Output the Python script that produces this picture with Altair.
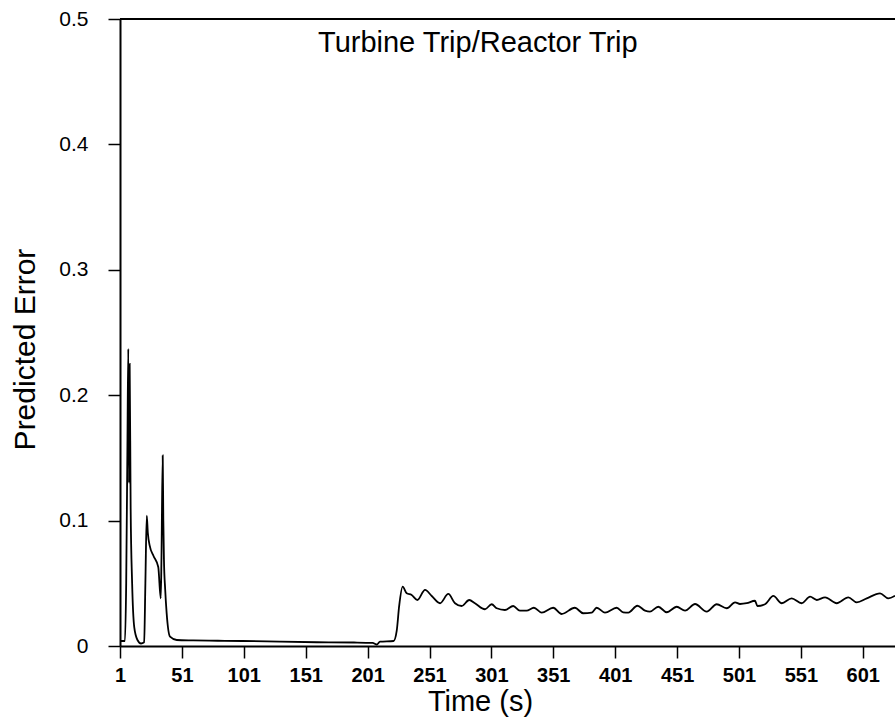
import altair as alt
import pandas as pd

# Time (s) and predicted error
time_s = [
    1, 3, 5, 6, 7, 7.7, 8.3, 8.8, 9.6, 10.8, 12.5, 15, 18, 20.5,
    21.5, 22.6, 23.5, 25, 28, 31.9, 33.9, 34.5, 35.5, 36, 36.5, 37.5, 38.7, 41.4, 46.8,
    60, 80, 100, 130, 160, 190, 205, 208.6, 211, 222, 224.5, 226.5,
    229.3, 232.6, 236.6, 241.2, 247.4, 252.8, 259.5, 266.2, 271.6, 277.0, 283.1,
    287.7, 295.8, 301.2, 305.3, 311.9, 318.6, 324.0, 329.4, 335.3, 341.6, 350.9,
    357.7, 368.4, 375.1, 382.0, 386.0, 392.7, 402.2, 407.5, 411.6, 418.9, 425.1,
    429.1, 435.8, 442.6, 450.7, 457.4, 465.5, 474.9, 483.0, 491.1, 497.8, 501.8,
    507.2, 513.9, 515.8, 522.0, 528.7, 535.5, 543.5, 551.6, 558.4, 563.8, 570.5,
    579.9, 589.3, 596.1, 604.2, 614.9, 621.6, 627.0,
]
pred_error = [
    0.004, 0.004, 0.004, 0.05, 0.16, 0.237, 0.13, 0.225, 0.11, 0.05, 0.015, 0.005, 0.002, 0.003,
    0.05, 0.104, 0.09, 0.08, 0.072, 0.063, 0.038, 0.07, 0.152, 0.1, 0.069, 0.045, 0.026, 0.0074, 0.0048,
    0.0045, 0.0042, 0.004, 0.0035, 0.003, 0.0028, 0.0025, 0.0012, 0.0035, 0.004, 0.012, 0.032,
    0.0473, 0.042, 0.0407, 0.0367, 0.0447, 0.0399, 0.0341, 0.0415, 0.0341, 0.0319, 0.0367,
    0.0341, 0.0293, 0.0333, 0.0301, 0.0287, 0.0319, 0.0282, 0.0282, 0.0305, 0.0266, 0.0305,
    0.0255, 0.0305, 0.0261, 0.0266, 0.0305, 0.0266, 0.0305, 0.0269, 0.0266, 0.0321, 0.0282,
    0.0274, 0.0313, 0.0269, 0.0313, 0.0282, 0.0335, 0.0274, 0.0333, 0.0301, 0.0348, 0.0335,
    0.0341, 0.0361, 0.0319, 0.0333, 0.0399, 0.0341, 0.0380, 0.0341, 0.0393, 0.0367, 0.0388,
    0.0341, 0.0388, 0.0348, 0.0380, 0.0420, 0.0380, 0.0401,
]
x_ticks = [1, 51, 101, 151, 201, 251, 301, 351, 401, 451, 501, 551, 601]
y_ticks = [0, 0.1, 0.2, 0.3, 0.4, 0.5]
title_text = ["Turbine Trip/Reactor Trip"]
top_border = [0.5]

df = pd.DataFrame({"t": time_s, "e": pred_error})
df_title = pd.DataFrame({"label": title_text})
df_top = pd.DataFrame({"e": top_border})

FONT = "Liberation Sans"

x_enc = alt.X(
    "t:Q",
    scale=alt.Scale(domain=[1, 627], nice=False, zero=False),
    axis=alt.Axis(
        values=x_ticks, format="d", title="Time (s)", grid=False,
        tickSize=12, tickWidth=1.5, tickColor="black",
        domainColor="black", domainWidth=2,
        labelFont=FONT, labelFontSize=20, labelFontWeight="bold", labelColor="black",
        labelPadding=7, labelFlush=False,
        titleFont=FONT, titleFontSize=29, titleFontWeight="normal", titleColor="black",
        titleX=360, titleY=55, titleBaseline="middle", titleAlign="center",
    ),
)
y_enc = alt.Y(
    "e:Q",
    scale=alt.Scale(domain=[0, 0.5], nice=False),
    axis=alt.Axis(
        values=y_ticks, title="Predicted Error", grid=False,
        labelExpr="datum.value == 0 ? '0' : format(datum.value, '.1f')",
        tickSize=12, tickWidth=1.5, tickColor="black",
        domainColor="black", domainWidth=2,
        labelFont=FONT, labelFontSize=21, labelColor="black", labelPadding=20,
        titleFont=FONT, titleFontSize=30, titleFontWeight="normal", titleColor="black",
        titleX=-95, titleY=330, titleBaseline="middle", titleAlign="center", titleAngle=270,
    ),
)

line = alt.Chart(df).mark_line(color="black", strokeWidth=1.8, interpolate="monotone").encode(
    x=x_enc, y=y_enc
)

top_rule = alt.Chart(df_top).mark_rule(color="black", strokeWidth=2).encode(
    y=alt.Y("e:Q")
)

title = alt.Chart(df_title).mark_text(
    font=FONT, fontSize=29, fontWeight="normal", color="black",
    align="left", baseline="middle"
).encode(text="label:N", x=alt.value(198), y=alt.value(24))

chart = alt.layer(line, top_rule, title).properties(
    width=775, height=627,
    autosize=alt.AutoSizeParams(type="none"),
    padding={"left": 120, "top": 19, "right": 0, "bottom": 79},
    background="white",
).configure_view(stroke=None)

chart.save("out.html", embed_options={"renderer": "svg", "actions": False})
